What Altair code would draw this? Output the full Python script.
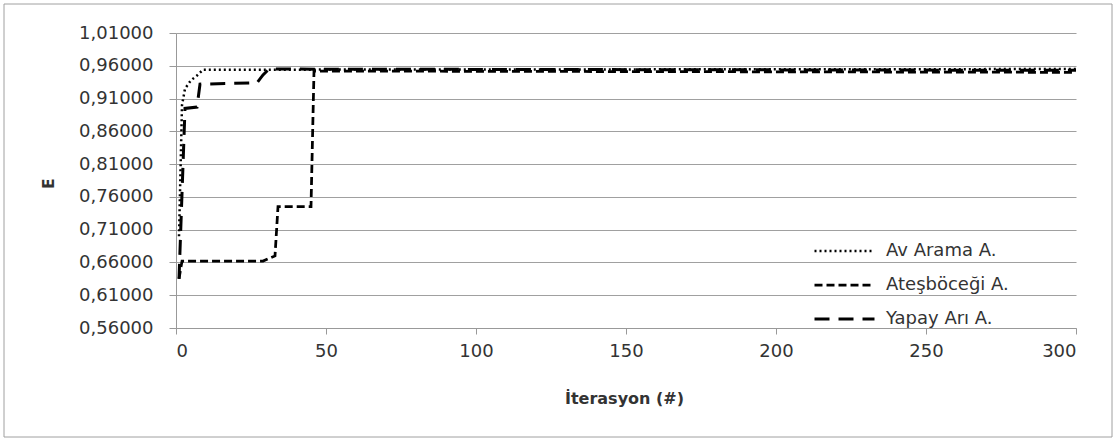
import altair as alt
import pandas as pd

series_names = ["Av Arama A.", "Ateşböceği A.", "Yapay Arı A."]

av_x = [1, 2, 3, 5, 7, 9, 300]
av_y = [0.700, 0.900, 0.925, 0.938, 0.945, 0.954, 0.955]

ates_x = [1, 2, 29, 33, 34, 45, 46, 300]
ates_y = [0.635, 0.662, 0.662, 0.670, 0.745, 0.745, 0.952, 0.950]

yapay_x = [1, 3, 7, 8, 27, 29, 31, 300]
yapay_y = [0.635, 0.895, 0.897, 0.932, 0.934, 0.946, 0.955, 0.953]

x_ticks = [0, 50, 100, 150, 200, 250, 300]
y_ticks = [0.56, 0.61, 0.66, 0.71, 0.76, 0.81, 0.86, 0.91, 0.96, 1.01]

rows = []
for name, xs, ys in [(series_names[0], av_x, av_y),
                     (series_names[1], ates_x, ates_y),
                     (series_names[2], yapay_x, yapay_y)]:
    for i, (a, b) in enumerate(zip(xs, ys)):
        rows.append({"seri": name, "iter": a, "E": b, "ord": i})
df = pd.DataFrame(rows)

FONT = "DejaVu Sans"
TXT = "#333333"
W, H = 900, 295

lines = alt.Chart(df).mark_line(color="black", clip=True).encode(
    x=alt.X("iter:Q", scale=alt.Scale(domain=[0, 300], nice=False),
            axis=alt.Axis(values=x_ticks, title="İterasyon (#)", grid=False,
                          domainColor="#999999", tickColor="#999999", tickSize=6,
                          labelFontSize=18, labelColor=TXT, labelPadding=8,
                          titleFontSize=16, titleFontWeight="bold", titleColor=TXT,
                          titleX=448, titleY=70, titleAlign="center", titleBaseline="middle",
                          labelFont=FONT, titleFont=FONT)),
    y=alt.Y("E:Q", scale=alt.Scale(domain=[0.56, 1.01], nice=False, zero=False),
            axis=alt.Axis(values=y_ticks, title="E", grid=True, gridColor="#a0a0a0",
                          gridWidth=1.2, domainColor="#999999", tickColor="#999999",
                          tickSize=7, labelFontSize=18, labelColor=TXT, labelPadding=16,
                          labelExpr="replace(format(datum.value, '.5f'), '.', ',')",
                          titleFontSize=15, titleFontWeight="bold", titleColor=TXT,
                          titleX=-128, titleY=150, titleAlign="center", titleBaseline="middle",
                          titleAngle=270,
                          labelFont=FONT, titleFont=FONT)),
    detail="seri:N",
    order="ord:Q",
    strokeDash=alt.StrokeDash("seri:N",
        scale=alt.Scale(domain=series_names, range=[[2, 3], [8, 4], [15, 9]]),
        legend=alt.Legend(title=None, orient="none", legendX=637, legendY=201,
                          symbolType="stroke", symbolStrokeColor="black",
                          symbolStrokeWidth=3, symbolSize=3600, clipHeight=34,
                          labelFontSize=18, labelColor=TXT, labelFont=FONT,
                          rowPadding=0, labelOffset=10)),
    strokeWidth=alt.StrokeWidth("seri:N",
        scale=alt.Scale(domain=series_names, range=[2.5, 3, 3]), legend=None),
)

frame = alt.Chart(pd.DataFrame({"k": [0]})).mark_rect(
    filled=False, stroke="#a0a0a0", strokeWidth=1, clip=False
).encode(x=alt.value(-172), x2=alt.value(936), y=alt.value(-29), y2=alt.value(404))

chart = alt.layer(frame, lines).properties(
    width=W, height=H,
    autosize=alt.AutoSizeParams(type="none"),
    padding={"left": 176, "top": 33, "right": 42, "bottom": 113},
    background="white",
).configure_view(stroke=None)

chart.save("out.html", embed_options={"renderer": "svg", "actions": False})
